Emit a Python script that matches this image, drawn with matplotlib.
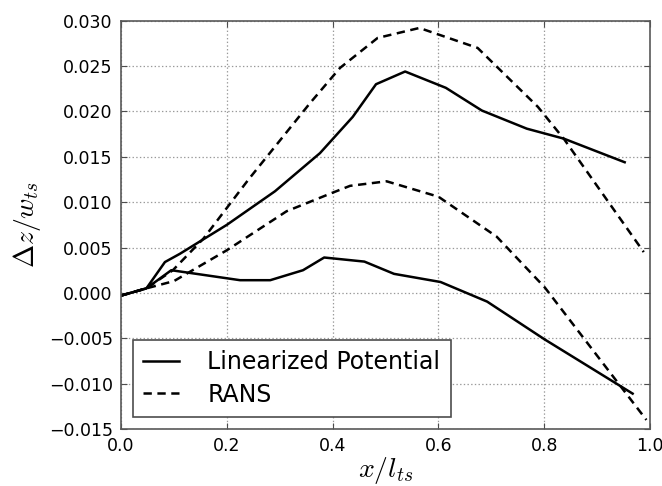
import matplotlib
matplotlib.use("Agg")
import matplotlib.pyplot as plt

# linearized potential, two cases
lp_hi_x = [0.0, 0.048, 0.083, 0.111, 0.2, 0.291, 0.376, 0.438, 0.482, 0.537, 0.614, 0.682, 0.767, 0.837, 0.952]
lp_hi_y = [-0.0003, 0.0005, 0.0034, 0.0043, 0.0075, 0.0112, 0.0154, 0.0194, 0.0230, 0.0244, 0.0226, 0.0201, 0.0181, 0.0170, 0.0144]
lp_lo_x = [0.0, 0.048, 0.095, 0.225, 0.282, 0.344, 0.384, 0.46, 0.516, 0.604, 0.692, 0.80, 0.967]
lp_lo_y = [-0.0003, 0.0005, 0.0025, 0.0014, 0.0014, 0.0025, 0.0039, 0.00345, 0.0021, 0.0012, -0.00096, -0.0051, -0.0111]

# RANS, two cases
rans_hi_x = [0.0, 0.048, 0.098, 0.156, 0.241, 0.357, 0.414, 0.485, 0.564, 0.674, 0.788, 0.838, 0.988]
rans_hi_y = [-0.0003, 0.0005, 0.0025, 0.0060, 0.0125, 0.0209, 0.0248, 0.0281, 0.0292, 0.0270, 0.0205, 0.0169, 0.0045]
rans_lo_x = [0.0, 0.048, 0.100, 0.2, 0.313, 0.398, 0.433, 0.502, 0.600, 0.710, 0.801, 0.993]
rans_lo_y = [-0.0003, 0.0005, 0.0013, 0.0047, 0.0090, 0.0110, 0.0118, 0.0123, 0.0106, 0.0062, 0.0006, -0.0140]

x_ticks = [0.0, 0.2, 0.4, 0.6, 0.8, 1.0]
y_ticks = [-0.015, -0.010, -0.005, 0.000, 0.005, 0.010, 0.015, 0.020, 0.025, 0.030]

plt.rcParams['mathtext.fontset'] = 'cm'
plt.rcParams['lines.scale_dashes'] = False

fig = plt.figure(figsize=(6.62, 4.86), dpi=100)
ax = fig.add_axes([0.1828, 0.1173, 0.7992, 0.8401])

dash = (0, (6, 4))
ax.plot(lp_hi_x, lp_hi_y, color='k', lw=1.8, label='Linearized Potential')
ax.plot(lp_lo_x, lp_lo_y, color='k', lw=1.8)
ax.plot(rans_hi_x, rans_hi_y, color='k', lw=1.8, linestyle=dash, label='RANS')
ax.plot(rans_lo_x, rans_lo_y, color='k', lw=1.8, linestyle=dash)

ax.set_xlim(0, 1.0)
ax.set_ylim(-0.015, 0.030)
ax.set_xticks(x_ticks)
ax.set_xticklabels(['%.1f' % v for v in x_ticks])
ax.set_yticks(y_ticks)
ax.set_yticklabels([('%.3f' % v).replace('-', '\u2212') for v in y_ticks])
ax.tick_params(direction='in', top=True, right=True, labelsize=12.5, length=4, color='0.3', pad=6)
ax.grid(True, linestyle=':', color='0.6', lw=0.9)
for s in ax.spines.values():
    s.set_color('0.35')
    s.set_linewidth(1.2)

ax.set_xlabel(r'$x/l_{ts}$', fontsize=20, labelpad=0)
ax.set_ylabel(r'$\Delta z/w_{ts}$', fontsize=20, labelpad=4)

leg = ax.legend(loc='lower left', fontsize=17, handlelength=1.5, handletextpad=1.2,
                fancybox=False, framealpha=1, borderpad=0.45, labelspacing=0.35)
leg.get_frame().set_edgecolor('0.3')
leg.get_frame().set_linewidth(1.2)

fig.savefig('out.png', dpi=100)
